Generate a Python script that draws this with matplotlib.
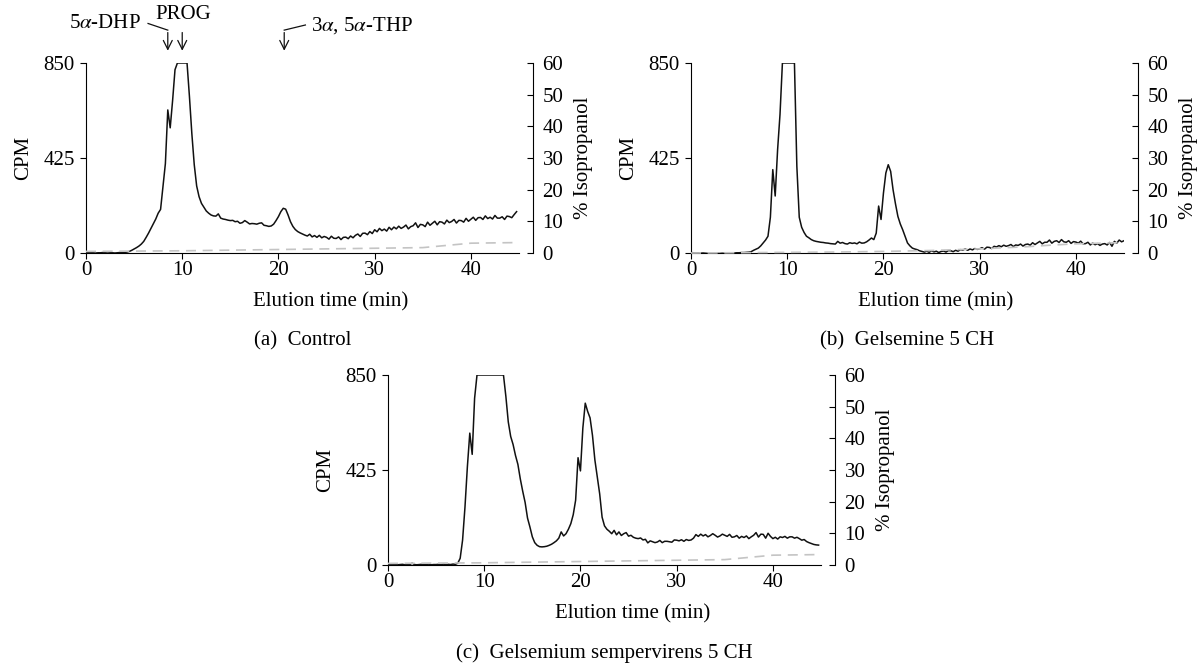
import numpy as np
import matplotlib.pyplot as plt

plt.rcParams['font.family'] = 'Liberation Serif'
plt.rcParams['mathtext.fontset'] = 'stix'

STEP = 0.25  # minutes between CPM samples

# CPM, one value every 0.25 min from t = 0
control_cpm = [
    2, 1, 2, 1, 0, 1, 1, 2, 1, 0, 1, 1, 0, 1, 2, 1, 3, 4, 7, 12,
    18, 24, 31, 40, 52, 70, 89, 110, 130, 152, 178, 195, 297, 400, 640, 560, 682, 820, 850, 850,
    850, 850, 850, 700, 534, 395, 300, 252, 222, 205, 188, 178, 170, 166, 165, 175, 156, 152, 150, 147,
    145, 146, 140, 142, 133, 136, 145, 138, 130, 132, 131, 129, 133, 135, 124, 122, 119, 121, 129, 145,
    163, 185, 200, 196, 170, 140, 119, 105, 96, 90, 85, 80, 76, 84, 72, 78, 70, 79, 68, 74,
    70, 62, 75, 66, 65, 72, 60, 70, 71, 64, 76, 68, 79, 85, 74, 88, 89, 82, 96, 87,
    104, 95, 110, 100, 107, 98, 115, 104, 116, 108, 120, 110, 116, 125, 108, 118, 122, 135, 114, 128,
    126, 118, 138, 124, 133, 142, 126, 140, 138, 130, 147, 136, 141, 150, 134, 146, 145, 138, 155, 142,
    151, 160, 146, 158, 159, 150, 166, 154, 160, 152, 168, 156, 156, 162, 150, 165, 163, 158, 172, 185,
]
gelsemine_cpm = [
    2, 1, 0, 1, -1, 0, -1, -2, -1, -2, -1, -2, -2, -1, -2, -1, -1, 0, 0, 1,
    1, 2, 2, 3, 4, 6, 12, 17, 22, 32, 45, 58, 75, 160, 373, 255, 462, 620, 850, 850,
    850, 850, 850, 850, 388, 160, 115, 92, 75, 68, 60, 55, 52, 50, 48, 47, 45, 44, 42, 41,
    40, 52, 44, 47, 42, 40, 46, 43, 45, 41, 49, 44, 45, 50, 58, 67, 60, 89, 210, 150,
    268, 358, 395, 365, 283, 220, 164, 130, 104, 75, 45, 32, 22, 18, 15, 10, 7, 4, 8, 3,
    10, 5, 8, 2, 7, 9, 4, 11, 10, 6, 12, 8, 15, 13, 18, 12, 18, 14, 20, 16,
    19, 24, 17, 26, 25, 20, 30, 27, 33, 28, 35, 30, 33, 38, 29, 36, 34, 40, 31, 38,
    40, 35, 46, 38, 45, 52, 41, 48, 48, 58, 44, 52, 55, 47, 60, 50, 48, 55, 43, 51,
    49, 44, 53, 41, 42, 48, 36, 44, 37, 42, 34, 40, 42, 36, 47, 30, 52, 44, 58, 50,
    55,
]
sempervirens_cpm = [
    2, 1, 3, 2, 1, 2, 3, 1, 2, 1, 8, 2, 1, 2, 3, 1, 2, 4, 1, 2,
    2, 3, 1, 4, 2, 3, 2, 4, 3, 8, 30, 111, 259, 440, 590, 495, 746, 850, 850, 850,
    850, 850, 850, 850, 850, 850, 850, 850, 850, 754, 640, 575, 539, 490, 450, 385, 330, 280, 210, 170,
    126, 100, 88, 82, 81, 82, 84, 88, 93, 100, 108, 120, 148, 130, 140, 160, 185, 225, 290, 480,
    421, 613, 724, 687, 658, 580, 470, 395, 318, 214, 175, 160, 151, 140, 155, 135, 148, 132, 140, 145,
    129, 133, 124, 120, 118, 121, 112, 115, 99, 108, 104, 100, 103, 110, 100, 106, 106, 104, 102, 112,
    111, 108, 113, 106, 114, 110, 112, 120, 136, 128, 138, 130, 136, 126, 132, 140, 133, 125, 130, 138,
    133, 128, 137, 124, 126, 132, 120, 128, 123, 130, 118, 126, 133, 145, 125, 138, 137, 120, 142, 128,
    118, 124, 116, 126, 123, 128, 120, 126, 126, 120, 124, 118, 111, 114, 105, 100, 96, 92, 90, 89,
]

# isopropanol gradient (%), dashed grey trace on the right axis
iso_time = [0, 5, 10, 15, 20, 25, 30, 35, 37.5, 40, 45]
control_iso = [0.5, 0.6, 0.7, 0.9, 1.1, 1.3, 1.5, 1.7, 2.4, 3.1, 3.3]
gelsemine_iso = [0.0, 0.1, 0.2, 0.3, 0.5, 0.8, 1.3, 2.0, 2.5, 2.9, 3.3]
sempervirens_iso = [0.5, 0.6, 0.7, 0.9, 1.1, 1.3, 1.5, 1.7, 2.4, 3.1, 3.3]

W, H = 1199, 665
FS = 15
INK = '#111111'


def draw_panel(fig, rect, cpm, iso, caption):
    ax = fig.add_axes(rect)
    t = np.arange(len(cpm)) * STEP
    ax.plot(t, cpm, color=INK, lw=1.1, zorder=3)
    ax.set_xlim(0, 45)
    ax.set_ylim(0, 850)
    ax.set_xticks([0, 10, 20, 30, 40])
    ax.set_yticks([0, 425, 850])
    ax.spines['top'].set_visible(False)
    ax.spines['right'].set_visible(False)
    ax.tick_params(direction='out', length=4, width=0.8, labelsize=FS)
    ax.tick_params(axis='x', pad=2)
    ax.tick_params(axis='y', pad=4)
    ax.set_ylabel('CPM', fontsize=FS, va='center')
    ax.yaxis.set_label_coords(-0.145, 0.5)
    ax.set_xlabel('Elution time (min)', fontsize=FS, va='center')
    ax.xaxis.set_label_coords(0.565, -0.255)

    ax2 = ax.twinx()
    ax2.plot(iso_time, iso, color='#c4c4c4', lw=1.2, ls=(0, (6, 4)), clip_on=False)
    ax2.set_ylim(0, 60)
    ax2.set_yticks(range(0, 61, 10))
    for s in ['top', 'left', 'bottom']:
        ax2.spines[s].set_visible(False)
    ax2.spines['right'].set_position(('outward', 10))
    ax2.tick_params(direction='in', length=4, width=0.8, labelsize=FS, pad=7)
    ax2.set_ylabel('% Isopropanol', fontsize=FS, va='center')
    ax2.yaxis.set_label_coords(1.148, 0.5)

    x0, y0, w, h = rect
    fig.text(x0 + w / 2, y0 - 88 / H, caption, ha='center', va='center', fontsize=FS)
    return ax


fig = plt.figure(figsize=(W / 100, H / 100), dpi=100)

ax_a = draw_panel(fig, [86 / W, 1 - 253 / H, 433 / W, 190 / H],
                  control_cpm, control_iso, '(a)  Control')
draw_panel(fig, [691 / W, 1 - 253 / H, 433 / W, 190 / H],
           gelsemine_cpm, gelsemine_iso, '(b)  Gelsemine 5 CH')
draw_panel(fig, [388 / W, 1 - 565 / H, 433 / W, 190 / H],
           sempervirens_cpm, sempervirens_iso, '(c)  Gelsemium sempervirens 5 CH')

# peak markers above the control trace
tr = ax_a.get_xaxis_transform()
arrow = dict(arrowstyle='->', color=INK, lw=0.9, mutation_scale=16)
ax_a.text(5.7, 1.208, r'5$\alpha$-DHP', transform=tr, ha='right', va='center', fontsize=FS)
ax_a.plot([6.45, 8.5], [1.208, 1.173], transform=tr, color=INK, lw=0.9, clip_on=False)
ax_a.annotate('', xy=(8.5, 1.05), xytext=(8.5, 1.175), xycoords=tr, textcoords=tr, arrowprops=arrow)
ax_a.text(10.1, 1.256, 'PROG', transform=tr, ha='center', va='center', fontsize=FS)
ax_a.annotate('', xy=(10.0, 1.05), xytext=(10.0, 1.175), xycoords=tr, textcoords=tr, arrowprops=arrow)
ax_a.text(23.4, 1.196, r'3$\alpha$, 5$\alpha$-THP', transform=tr, ha='left', va='center', fontsize=FS)
ax_a.plot([22.8, 20.6], [1.2, 1.173], transform=tr, color=INK, lw=0.9, clip_on=False)
ax_a.annotate('', xy=(20.6, 1.05), xytext=(20.6, 1.175), xycoords=tr, textcoords=tr, arrowprops=arrow)

fig.savefig('out.png', dpi=100)
